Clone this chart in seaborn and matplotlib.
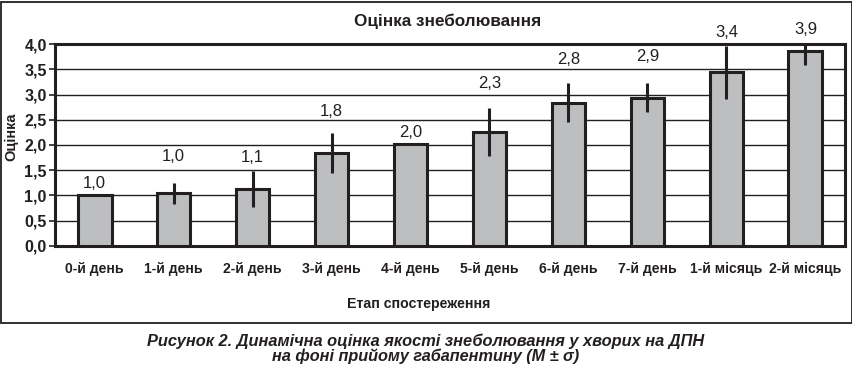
import numpy as np
import pandas as pd
import matplotlib.pyplot as plt
import seaborn as sns
from matplotlib.patches import Rectangle
from matplotlib.ticker import FuncFormatter, MultipleLocator

stages = ["0-й день", "1-й день", "2-й день", "3-й день", "4-й день",
          "5-й день", "6-й день", "7-й день", "1-й місяць", "2-й місяць"]
means = [1.00, 1.04, 1.12, 1.84, 2.01, 2.26, 2.84, 2.94, 3.44, 3.87]
sds = [0.0, 0.21, 0.36, 0.39, 0.0, 0.47, 0.39, 0.29, 0.53, 0.28]
# where the value labels sit (data units), as placed in the original
label_y = [1.24, 1.77, 1.76, 2.66, 2.24, 3.23, 3.69, 3.75, 4.23, 4.30]

df = pd.DataFrame({"stage": stages, "mean": means, "sd": sds})

sns.set_style("white")
plt.rcParams["font.family"] = ["Liberation Sans", "DejaVu Sans"]

fig = plt.figure(figsize=(8.53, 3.66), dpi=100)
ax = fig.add_axes([0.0645, 0.3287, 0.9261, 0.5503])

EDGE = "#231f20"
sns.barplot(data=df, x="stage", y="mean", color="#bdbec0", edgecolor=EDGE,
            linewidth=2.2, width=0.43, saturation=1, errorbar=None, ax=ax, zorder=3)
ax.errorbar(np.arange(len(stages)), df["mean"], yerr=df["sd"], fmt="none",
            ecolor=EDGE, elinewidth=2.2, capsize=0, zorder=4)

for i, (m, ly) in enumerate(zip(means, label_y)):
    ax.text(i, ly, f"{m:.1f}".replace(".", ","), ha="center", va="center",
            fontsize=12, color=EDGE, zorder=5)

ax.set_xlim(-0.5, len(stages) - 0.5)
ax.set_ylim(0, 4.0)
ax.yaxis.set_major_locator(MultipleLocator(0.5))
ax.yaxis.set_major_formatter(FuncFormatter(lambda v, p: f"{v:.1f}".replace(".", ",")))
ax.grid(axis="y", color=EDGE, linewidth=1.0, zorder=0)
ax.set_axisbelow(True)

for s in ax.spines.values():
    s.set_visible(True)
    s.set_color(EDGE)
    s.set_linewidth(2.2)

ax.set_xticks(np.arange(len(stages)))
ax.set_xticklabels(stages, fontsize=10.1, fontweight="bold", color=EDGE)
ax.set_xticks(np.arange(-0.5, len(stages), 1.0), minor=True)
ax.tick_params(axis="x", which="major", length=0, pad=12)
ax.tick_params(axis="x", which="minor", length=5, width=1.2, color=EDGE, direction="out")
ax.tick_params(axis="y", length=4, width=1.2, color=EDGE, direction="out", left=True,
               labelsize=11.5, pad=2)
for t in ax.get_yticklabels():
    t.set_fontweight("bold")
    t.set_color(EDGE)

ax.set_xlabel("Етап спостереження", fontsize=10.2, fontweight="bold", color=EDGE)
ax.xaxis.set_label_coords(0.46, -0.255)
ax.set_ylabel("Оцінка", fontsize=10.5, fontweight="bold", color=EDGE, va="center")
ax.yaxis.set_label_coords(-0.055, 0.54)

fig.text(0.525, 0.9407, "Оцінка знеболювання", ha="center", va="center",
         fontsize=12.3, fontweight="bold", color=EDGE)

fig.patches.append(Rectangle((1.5 / 853, 43 / 366), 850.5 / 853, 321.5 / 366,
                             transform=fig.transFigure, fill=False,
                             edgecolor=EDGE, linewidth=1.3))

cap_font = ["Liberation Sans Narrow", "Liberation Sans", "DejaVu Sans"]
fig.text(0.499, (366 - 341) / 366,
         "Рисунок 2. Динамічна оцінка якості знеболювання у хворих на ДПН",
         ha="center", va="center", fontsize=11.8, fontweight="bold",
         style="italic", family=cap_font, color=EDGE)
fig.text(0.499, (366 - 356) / 366, "на фоні прийому габапентину (М ± σ)",
         ha="center", va="center", fontsize=11.7, fontweight="bold",
         style="italic", family=cap_font, color=EDGE)

fig.savefig("out.png", dpi=100)
